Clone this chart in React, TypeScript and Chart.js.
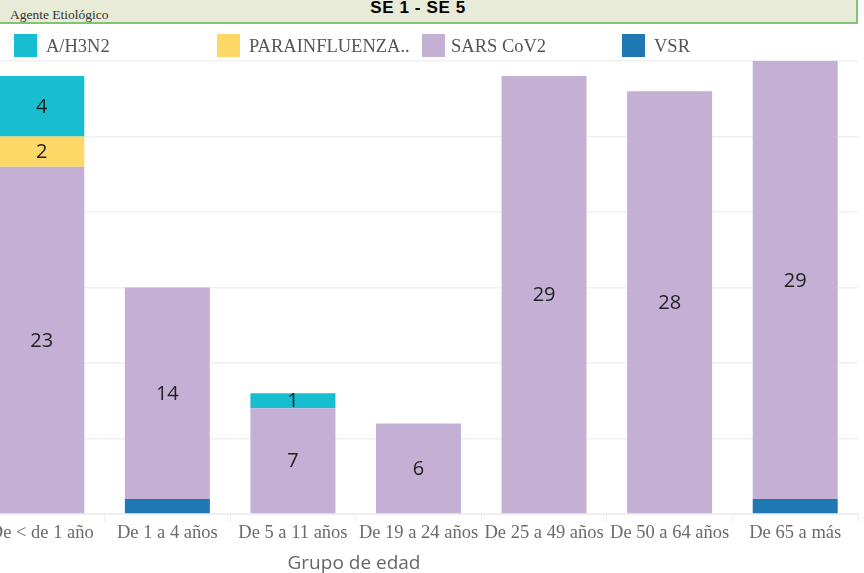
import React, { useEffect, useRef } from "react";
import { Chart, registerables } from "chart.js";

Chart.register(...registerables);

const categories = [
  "De < de 1 año",
  "De 1 a 4 años",
  "De 5 a 11 años",
  "De 19 a 24 años",
  "De 25 a 49 años",
  "De 50 a 64 años",
  "De 65 a más",
];

const seriesNames = ["A/H3N2", "PARAINFLUENZA..", "SARS CoV2", "VSR"];
const seriesColors = ["#17becf", "#fed866", "#c5b0d5", "#1f77b4"];

const h3n2Values = [4, null, 1, null, null, null, null];
const paraValues = [2, null, null, null, null, null, null];
const sarsValues = [23, 14, 7, 6, 29, 28, 29];
const vsrValues = [null, 1, null, null, null, null, 1];

const yTicks = [0, 5, 10, 15, 20, 25, 30];

const headerTitle = "SE 1 - SE 5";
const headerLabel = "Agente Etiológico";
const xTitle = "Grupo de edad";

const legendLeft = [14, 217, 422, 622];
const legendTextLeft = [46, 249, 451, 654];

const labelPlugin = {
  id: "segLabels",
  afterDatasetsDraw(chart: any) {
    const ctx = chart.ctx;
    ctx.save();
    ctx.font = "20px 'Open Sans', sans-serif";
    ctx.fillStyle = "#222";
    ctx.textAlign = "center";
    ctx.textBaseline = "middle";
    chart.data.datasets.forEach((ds: any, di: number) => {
      if (!ds.showLabels) return;
      const meta = chart.getDatasetMeta(di);
      meta.data.forEach((el: any, i: number) => {
        const v = ds.data[i];
        if (v === null || v === undefined) return;
        ctx.fillText(String(v), el.x, (el.y + el.base) / 2 + 1);
      });
    });
    ctx.restore();
  },
};

export default function App() {
  const ref = useRef<HTMLCanvasElement | null>(null);

  useEffect(() => {
    if (!ref.current) return;
    const chart = new Chart(ref.current, {
      type: "bar",
      data: {
        labels: categories,
        datasets: [
          { label: seriesNames[3], data: vsrValues, backgroundColor: seriesColors[3], showLabels: false } as any,
          { label: seriesNames[2], data: sarsValues, backgroundColor: seriesColors[2], showLabels: true } as any,
          { label: seriesNames[1], data: paraValues, backgroundColor: seriesColors[1], showLabels: true } as any,
          { label: seriesNames[0], data: h3n2Values, backgroundColor: seriesColors[0], showLabels: true } as any,
        ],
      },
      options: {
        responsive: false,
        animation: false,
        layout: { padding: { top: 61, right: 6, left: 0, bottom: 0 } },
        datasets: {
          bar: { barPercentage: 0.677, categoryPercentage: 1, borderWidth: 0 },
        },
        plugins: {
          legend: { display: false },
          tooltip: { enabled: false },
          title: { display: false },
        },
        scales: {
          x: {
            stacked: true,
            border: { display: true, color: "#eeeeee", width: 1 },
            grid: {
              offset: true,
              drawOnChartArea: false,
              drawTicks: true,
              tickLength: 8,
              color: "#eeeeee",
            },
            ticks: {
              color: "#6b6b6b",
              padding: 0,
              maxRotation: 0,
              autoSkip: false,
              font: { family: "'Liberation Serif', serif", size: 18.5 },
            },
            afterFit: (scale: any) => {
              scale.height = 59;
            },
          },
          y: {
            stacked: true,
            min: yTicks[0],
            max: yTicks[yTicks.length - 1],
            border: { display: false },
            grid: { color: "#f0f0f0", lineWidth: 1.5, drawTicks: false },
            ticks: { display: false, stepSize: yTicks[1] - yTicks[0] },
            afterFit: (scale: any) => {
              scale.width = 0;
            },
          },
        },
      } as any,
      plugins: [labelPlugin],
    });
    return () => chart.destroy();
  }, []);

  const legendOrder = [0, 1, 2, 3];

  return (
    <div
      style={{
        position: "fixed",
        left: 0,
        top: 0,
        width: 864,
        height: 573,
        overflow: "hidden",
        background: "#fff",
      }}
    >
      <canvas
        ref={ref}
        width={885}
        height={573}
        style={{ position: "absolute", left: -21, top: 0, width: 885, height: 573 }}
      />
      <div
        style={{
          position: "absolute",
          left: 0,
          top: 0,
          width: 856,
          height: 22,
          background: "#e7ebd7",
          borderRight: "2px solid #80c372",
          borderBottom: "2px solid #80c372",
        }}
      >
        <div
          style={{
            position: "absolute",
            left: 10,
            top: 8,
            font: "13.5px 'Liberation Serif', serif",
            lineHeight: "13.5px",
            color: "#333",
            whiteSpace: "nowrap",
          }}
        >
          {headerLabel}
        </div>
        <div
          style={{
            position: "absolute",
            left: 418,
            top: -1,
            transform: "translateX(-50%)",
            font: "bold 17px 'Liberation Sans', Arial, sans-serif",
            lineHeight: "17px",
            letterSpacing: "0.6px",
            color: "#000",
            whiteSpace: "nowrap",
          }}
        >
          {headerTitle}
        </div>
      </div>
      {legendOrder.map((i) => (
        <React.Fragment key={i}>
          <div
            style={{
              position: "absolute",
              left: legendLeft[i],
              top: 34,
              width: 23,
              height: 23,
              background: seriesColors[i],
            }}
          />
          <div
            style={{
              position: "absolute",
              left: legendTextLeft[i],
              top: 36.5,
              font: "18.5px 'Liberation Serif', serif",
              lineHeight: "18.5px",
              color: "#555",
              whiteSpace: "nowrap",
            }}
          >
            {seriesNames[i]}
          </div>
        </React.Fragment>
      ))}
      <div
        style={{
          position: "absolute",
          left: 354,
          top: 552.5,
          transform: "translateX(-50%)",
          font: "19px 'Open Sans', sans-serif",
          lineHeight: "19px",
          color: "#666",
          whiteSpace: "nowrap",
        }}
      >
        {xTitle}
      </div>
    </div>
  );
}
